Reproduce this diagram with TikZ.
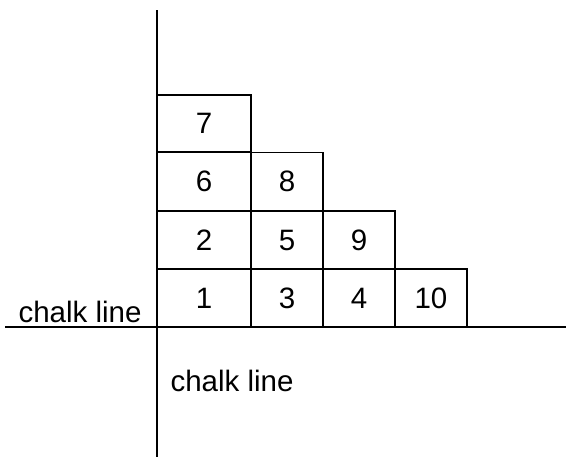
\documentclass[tikz,border=0pt]{standalone}
\usepackage{fontspec}
\setmainfont{Liberation Sans}
\begin{document}
\begin{tikzpicture}[x=1pt,y=-1pt,
  cell/.style={draw=black,line width=1.5pt,inner sep=0pt,font=\fontsize{29.5}{34}\selectfont},
  wide/.style={cell,minimum width=94pt,minimum height=58pt},
  narrow/.style={cell,minimum width=72pt,minimum height=58pt},
  lbl/.style={font=\fontsize{29.5}{34}\selectfont,inner sep=0pt},
  axis/.style={line width=1.5pt}]
\useasboundingbox (0,0) rectangle (566,459);
\coordinate (vt) at (157,10);
\coordinate (vb) at (157,457);
\coordinate (hl) at (5,327);
\coordinate (hr) at (566,327);
% column 1
\node[wide] (c1) at (204,298) {1};
\node[wide] (c2) at (204,240) {2};
\node[wide] (c6) at (204,181.5) {6};
\node[wide,minimum height=57pt] (c7) at (204,123.5) {7};
% column 2
\node[narrow] (c3) at (287,298) {3};
\node[narrow] (c5) at (287,240) {5};
\node[narrow] (c8) at (287,181.5) {8};
% column 3
\node[narrow] (c4) at (359,298) {4};
\node[narrow] (c9) at (359,240) {9};
% column 4
\node[narrow] (c10) at (431,298) {10};
\draw[axis] (vt) -- (vb);
\draw[axis] (hl) -- (hr);
\node[lbl] (t1) at (80,312) {chalk line};
\node[lbl] (t2) at (232,381) {chalk line};
\end{tikzpicture}
\end{document}
